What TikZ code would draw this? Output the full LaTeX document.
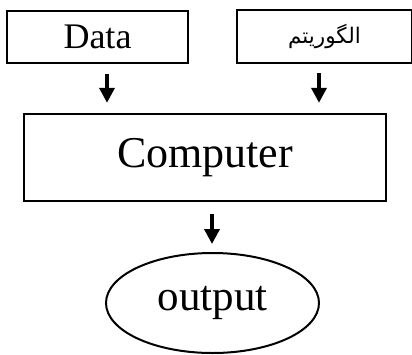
\documentclass[tikz,border=0pt]{standalone}
\usepackage{fontspec}
\setmainfont{Liberation Serif}
\newfontfamily\arabicfont[Script=Arabic]{DejaVu Sans}
\TeXXeTstate=1
\usetikzlibrary{shapes.geometric,arrows.meta,calc}

\tikzset{
  boxnode/.style={draw=black, line width=2.4pt, rectangle, inner sep=0pt, fill=white},
  outnode/.style={draw=black, line width=2pt, ellipse, inner sep=0pt},
  downarrow/.style={line width=3.5pt, -{Triangle[width=15pt,length=15pt]}}
}

\begin{document}
\begin{tikzpicture}[x=1pt,y=-1pt]
  \useasboundingbox (0,0) rectangle (412,354);
  \clip (0,0) rectangle (412,354);

  % input boxes
  \node[boxnode, minimum width=181pt, minimum height=52pt,
        font=\fontsize{36}{40}\selectfont] (data) at (97.5,37) {Data};
  \node[boxnode, minimum width=175pt, minimum height=53pt,
        font=\arabicfont\fontsize{21.5}{24}\selectfont] (algo) at (324.5,36.5)
        {\beginR الگوریتم\endR};

  % processing box
  \node[boxnode, minimum width=362pt, minimum height=87pt,
        font=\fontsize{44}{48}\selectfont] (comp) at (205,157.5) {Computer};

  % result
  \node[outnode, minimum width=213pt, minimum height=100pt,
        font=\fontsize{43}{46}\selectfont] (out) at (212.5,303) {output};

  % flow arrows
  \draw[downarrow, shorten <=10pt, shorten >=10pt]
    ([xshift=9.5pt]data.south) -- ([xshift=9.5pt]data.south |- comp.north);
  \draw[downarrow, shorten <=9pt, shorten >=10pt]
    ([xshift=-5.5pt]algo.south) -- ([xshift=-5.5pt]algo.south |- comp.north);
  \draw[downarrow, shorten <=12pt, shorten >=8pt]
    ([xshift=7pt]comp.south) -- ([xshift=7pt]comp.south |- out.north);
\end{tikzpicture}
\end{document}
